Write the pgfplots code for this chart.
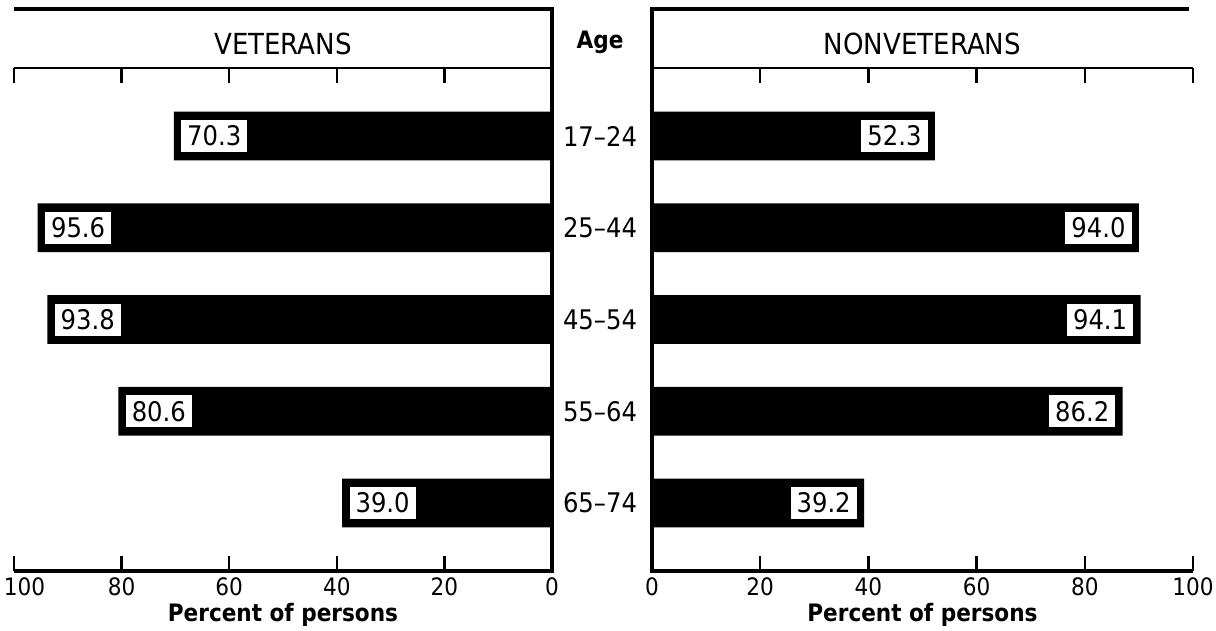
\documentclass[border=0pt]{standalone}
\usepackage{pgfplots}
\pgfplotsset{compat=1.18}
\usepackage{pgfplotstable}
\usepackage{fontspec}
\setmainfont{DejaVu Sans Condensed}

% y = age group position, len = drawn bar length, lab = printed value
\pgfplotstableread{
y len lab
1 70.3 70.3
2 95.6 95.6
3 93.8 93.8
4 80.6 80.6
5 39.0 39.0
}\vet
\pgfplotstableread{
y len lab
1 52.3 52.3
2 90.0 94.0
3 90.3 94.1
4 87.0 86.2
5 39.2 39.2
}\nonvet

\pgfplotsset{panel/.style={
  scale only axis, height=251.5pt,
  xbar, bar width=0.53,
  xmin=0, xmax=100, ymin=0.259, ymax=5.741, y dir=reverse,
  axis line style={draw=none},
  xtick={0,20,40,60,80,100}, xtick pos=both, xticklabel pos=lower,
  tick align=inside, major tick length=7.5pt,
  tick style={black, line width=1.2pt},
  every major y tick/.style={draw=none},
  /pgf/number format/assume math mode=true,
  xticklabel style={font=\fontsize{12}{12}\selectfont},
  xlabel={Percent of persons},
  xlabel style={font=\fontsize{12}{12}\selectfont\bfseries, yshift=3.5pt},
  title style={font=\fontsize{14.5}{14.5}\selectfont, at={(0.5,1)}, anchor=center, yshift=6pt},
  point meta=explicit symbolic,
  nodes near coords,
  every node near coord/.append style={fill=white, text=black, inner xsep=3pt, inner ysep=0pt, minimum height=16pt, font=\fontsize{13.5}{13.5}\selectfont},
  clip=false,
}}

\begin{document}
\begin{tikzpicture}
\useasboundingbox (0,0) rectangle (608pt,315.5pt);

\begin{axis}[panel, name=L, at={(7pt,30pt)}, anchor=south west, width=269pt,
  x dir=reverse, ytick=\empty, title={VETERANS},
  xticklabels={0,20,40,60,80,{\makebox[0pt][l]{\hspace{-5pt}100}}},
  nodes near coords align={anchor=west},
  every node near coord/.append style={xshift=3.5pt}]
\addplot[fill=black, draw=none] table[x=len, y=y, meta=lab] {\vet};
\end{axis}

\begin{axis}[panel, name=R, at={(326pt,30pt)}, anchor=south west, width=270.5pt,
  ytick={1,2,3,4,5}, yticklabels={17--24,25--44,45--54,55--64,65--74},
  ytick pos=left,
  yticklabel style={anchor=center, xshift=-26pt, font=\fontsize{13.5}{13.5}\selectfont},
  title={NONVETERANS},
  nodes near coords align={anchor=east},
  every node near coord/.append style={xshift=-3.5pt}]
\addplot[fill=black, draw=none] table[x=len, y=y, meta=lab] {\nonvet};
\end{axis}

\node[font=\fontsize{12}{12}\selectfont\bfseries] at (300pt,294.5pt) {Age};

% frames
\draw[line width=1.6pt] ([yshift=29.5pt]L.north west) -- ([yshift=29.5pt]L.north east);
\draw[line width=1.4pt] (L.north west) -- (L.north east);
\draw[line width=1.6pt] (L.south west) -- (L.south east);
\draw[line width=2.2pt] ([yshift=30.3pt]L.north east) -- ([yshift=-0.8pt]L.south east);

\draw[line width=1.6pt] ([yshift=29.5pt]R.north west) -- ([yshift=29.5pt,xshift=-2pt]R.north east);
\draw[line width=1.4pt] (R.north west) -- (R.north east);
\draw[line width=1.6pt] (R.south west) -- (R.south east);
\draw[line width=2.2pt] ([yshift=30.3pt]R.north west) -- ([yshift=-0.8pt]R.south west);
\end{tikzpicture}
\end{document}
